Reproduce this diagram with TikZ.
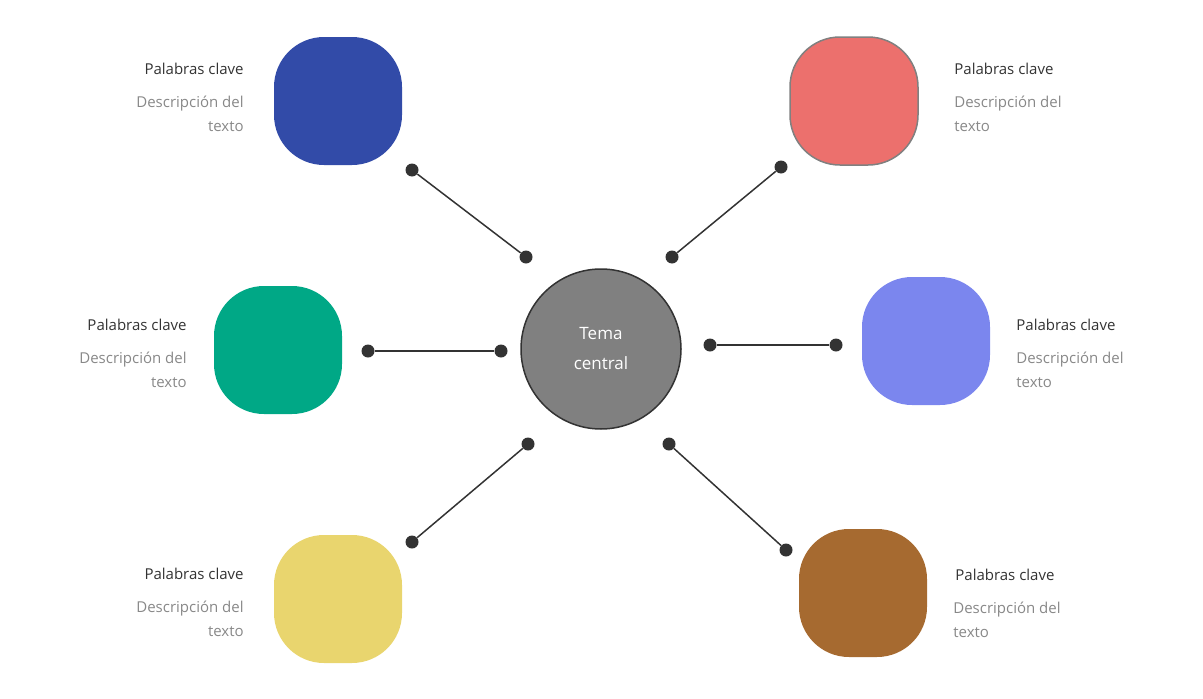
\documentclass[tikz,border=0pt]{standalone}
\usepackage{fontspec}
\setmainfont{Open Sans}
\definecolor{cBlue}{HTML}{324BA8}
\definecolor{cRed}{HTML}{EC706D}
\definecolor{cGreen}{HTML}{00A886}
\definecolor{cPurple}{HTML}{7B86EE}
\definecolor{cYellow}{HTML}{E9D56E}
\definecolor{cBrown}{HTML}{A66A30}
\definecolor{cText}{HTML}{333333}
\definecolor{cDesc}{HTML}{888888}
\tikzset{every picture/.style={line width=0.75pt},
  blob/.style={minimum width=128pt,minimum height=128pt,rounded corners=50pt,draw=none},
  dot/.style={circle,fill=cText,inner sep=0pt,minimum size=13pt},
  link/.style={draw=cText,line width=1.5pt},
  key/.style={text=cText,font=\fontsize{15}{18}\selectfont,inner sep=0pt},
  desc/.style={text=cDesc,font=\fontsize{15}{24}\selectfont,inner sep=0pt}}

\begin{document}
\begin{tikzpicture}[x=1pt,y=1pt,yscale=-1,xscale=1]
\useasboundingbox (0,0) rectangle (1203,699);

% blobs
\node [blob,fill=cBlue] (bBlue) at (338,101) {};
\node [blob,fill=cRed,draw=gray,line width=1.5pt] (bRed) at (854,101) {};
\node [blob,fill=cGreen] (bGreen) at (278,350) {};
\node [blob,fill=cPurple] (bPurple) at (926,341) {};
\node [blob,fill=cYellow] (bYellow) at (338,599) {};
\node [blob,fill=cBrown] (bBrown) at (863,593) {};

% centre
\node [circle,fill=gray,draw=cText,line width=1.5pt,minimum size=160pt,align=center,
  text=white,font=\fontsize{17}{30}\selectfont] (center) at (601,349) {Tema\\central};

% links
\node [dot] (d1a) at (412,170) {}; \node [dot] (d1b) at (526,257) {};
\node [dot] (d2a) at (781,167) {}; \node [dot] (d2b) at (672,257) {};
\node [dot] (d3a) at (368,351) {}; \node [dot] (d3b) at (501,351) {};
\node [dot] (d4a) at (836,345) {}; \node [dot] (d4b) at (710,345) {};
\node [dot] (d5a) at (412,542) {}; \node [dot] (d5b) at (528,444) {};
\node [dot] (d6a) at (786,550) {}; \node [dot] (d6b) at (669,444) {};
\draw [link] (d1a) -- (d1b);
\draw [link] (d2a) -- (d2b);
\draw [link] (d3a) -- (d3b);
\draw [link] (d4a) -- (d4b);
\draw [link] (d5a) -- (d5b);
\draw [link] (d6a) -- (d6b);

% labels
\node [key,anchor=east] (k1) at (244,69) {Palabras clave};
\node [desc,anchor=north east,align=right] (t1) at (244,96) {Descripción del\\texto};
\node [key,anchor=west] (k2) at (954,69) {Palabras clave};
\node [desc,anchor=north west,align=left] (t2) at (954,96) {Descripción del\\texto};
\node [key,anchor=east] (k3) at (187,325) {Palabras clave};
\node [desc,anchor=north east,align=right] (t3) at (187,352) {Descripción del\\texto};
\node [key,anchor=west] (k4) at (1016,325) {Palabras clave};
\node [desc,anchor=north west,align=left] (t4) at (1016,352) {Descripción del\\texto};
\node [key,anchor=east] (k5) at (244,574) {Palabras clave};
\node [desc,anchor=north east,align=right] (t5) at (244,601) {Descripción del\\texto};
\node [key,anchor=west] (k6) at (955,575) {Palabras clave};
\node [desc,anchor=north west,align=left] (t6) at (953,602) {Descripción del\\texto};

\end{tikzpicture}
\end{document}
